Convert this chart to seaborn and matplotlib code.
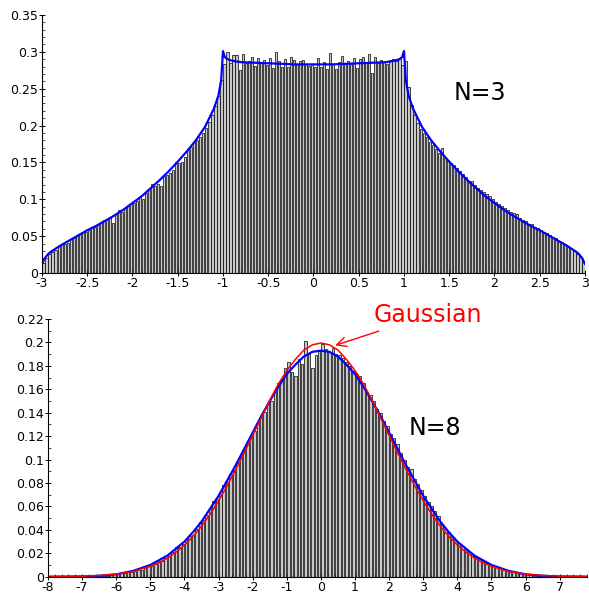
import numpy as np
import pandas as pd
import matplotlib
matplotlib.use("Agg")
import matplotlib.pyplot as plt
from matplotlib.ticker import MultipleLocator, FuncFormatter
import seaborn as sns

# ---- data: N=3 panel ----
top_bin_start = -3.0
top_bin_width = 1 / 30
top_bars = [
    0.013, 0.021, 0.026, 0.028, 0.031, 0.037, 0.039, 0.040, 0.041, 0.046,
    0.047, 0.051, 0.053, 0.056, 0.056, 0.058, 0.062, 0.062, 0.066, 0.068,
    0.072, 0.073, 0.074, 0.068, 0.080, 0.085, 0.083, 0.088, 0.091, 0.093,
    0.095, 0.098, 0.103, 0.101, 0.108, 0.112, 0.121, 0.118, 0.121, 0.118,
    0.131, 0.133, 0.135, 0.140, 0.150, 0.149, 0.151, 0.157, 0.167, 0.171,
    0.178, 0.180, 0.185, 0.190, 0.197, 0.205, 0.214, 0.226, 0.240, 0.262,
    0.283, 0.300, 0.285, 0.296, 0.296, 0.276, 0.297, 0.285, 0.287, 0.293,
    0.281, 0.292, 0.285, 0.289, 0.282, 0.291, 0.278, 0.300, 0.287, 0.279,
    0.290, 0.280, 0.293, 0.289, 0.283, 0.288, 0.289, 0.283, 0.281, 0.284,
    0.279, 0.292, 0.279, 0.286, 0.277, 0.298, 0.283, 0.277, 0.286, 0.295,
    0.283, 0.287, 0.284, 0.292, 0.278, 0.290, 0.293, 0.285, 0.297, 0.272,
    0.293, 0.285, 0.289, 0.286, 0.284, 0.289, 0.290, 0.287, 0.292, 0.282,
    0.287, 0.253, 0.228, 0.214, 0.203, 0.196, 0.190, 0.184, 0.178, 0.174,
    0.168, 0.163, 0.170, 0.156, 0.153, 0.149, 0.146, 0.142, 0.138, 0.134,
    0.130, 0.125, 0.125, 0.119, 0.116, 0.113, 0.110, 0.107, 0.104, 0.100,
    0.097, 0.094, 0.091, 0.088, 0.086, 0.083, 0.081, 0.080, 0.075, 0.072,
    0.070, 0.067, 0.067, 0.062, 0.061, 0.058, 0.056, 0.054, 0.051, 0.049,
    0.047, 0.044, 0.042, 0.039, 0.036, 0.033, 0.030, 0.026, 0.022, 0.016,
]
top_curve_x = [-3.0, -2.97, -2.93, -2.9, -2.8, -2.7, -2.6, -2.5, -2.4, -2.3,
               -2.2, -2.1, -2.0, -1.9, -1.8, -1.7, -1.6, -1.5, -1.4, -1.3,
               -1.2, -1.1, -1.05, -1.02, -1.0, -0.98, -0.95, -0.9, -0.8, -0.6,
               -0.4, -0.2, 0.0, 0.2, 0.4, 0.6, 0.8, 0.9, 0.95, 0.98,
               1.0, 1.02, 1.05, 1.1, 1.2, 1.3, 1.4, 1.5, 1.6, 1.7,
               1.8, 1.9, 2.0, 2.1, 2.2, 2.3, 2.4, 2.5, 2.6, 2.7,
               2.8, 2.9, 2.93, 2.97, 3.0]
top_curve_y = [0.012, 0.020, 0.026, 0.029, 0.037, 0.044, 0.051, 0.058, 0.064, 0.071,
               0.078, 0.086, 0.095, 0.104, 0.115, 0.126, 0.138, 0.151, 0.165, 0.180,
               0.198, 0.223, 0.241, 0.262, 0.301, 0.293, 0.290, 0.288, 0.286, 0.285,
               0.284, 0.283, 0.283, 0.283, 0.284, 0.285, 0.286, 0.288, 0.290, 0.293,
               0.301, 0.262, 0.241, 0.223, 0.198, 0.180, 0.165, 0.151, 0.138, 0.126,
               0.115, 0.104, 0.095, 0.086, 0.078, 0.071, 0.064, 0.058, 0.051, 0.044,
               0.037, 0.029, 0.026, 0.020, 0.012]

# ---- data: N=8 panel ----
bot_bin_start = -6.5
bot_bin_width = 0.1
bot_bars = [
    0.001, 0.001, 0.001, 0.002, 0.002, 0.002, 0.003, 0.003, 0.004, 0.004,
    0.005, 0.006, 0.006, 0.007, 0.009, 0.009, 0.011, 0.013, 0.013, 0.016,
    0.018, 0.021, 0.025, 0.025, 0.028, 0.032, 0.035, 0.036, 0.041, 0.047,
    0.048, 0.053, 0.059, 0.065, 0.066, 0.071, 0.078, 0.081, 0.088, 0.091,
    0.097, 0.105, 0.108, 0.114, 0.121, 0.124, 0.132, 0.137, 0.141, 0.148,
    0.150, 0.158, 0.165, 0.168, 0.178, 0.183, 0.175, 0.171, 0.186, 0.182,
    0.201, 0.190, 0.178, 0.189, 0.193, 0.199, 0.194, 0.192, 0.195, 0.190,
    0.189, 0.187, 0.183, 0.180, 0.176, 0.173, 0.171, 0.165, 0.158, 0.155,
    0.150, 0.143, 0.140, 0.133, 0.129, 0.122, 0.118, 0.113, 0.106, 0.100,
    0.094, 0.092, 0.083, 0.079, 0.074, 0.069, 0.064, 0.060, 0.056, 0.052,
    0.045, 0.041, 0.038, 0.034, 0.031, 0.029, 0.026, 0.023, 0.021, 0.018,
    0.017, 0.015, 0.014, 0.012, 0.011, 0.009, 0.008, 0.007, 0.006, 0.005,
    0.004, 0.004, 0.003, 0.003, 0.002, 0.002, 0.002, 0.001, 0.001, 0.001,
]
bot_curve_x = [-8, -7.5, -7, -6.5, -6, -5.5, -5, -4.75, -4.5, -4.25,
               -4, -3.75, -3.5, -3.25, -3, -2.75, -2.5, -2.25, -2, -1.75,
               -1.5, -1.25, -1, -0.75, -0.5, -0.25, 0, 0.25, 0.5, 0.75,
               1, 1.25, 1.5, 1.75, 2, 2.25, 2.5, 2.75, 3, 3.25,
               3.5, 3.75, 4, 4.25, 4.5, 4.75, 5, 5.5, 6, 6.5,
               7, 7.5, 7.8]
bot_blue_y = [0.0, 0.0001, 0.0002, 0.0008, 0.002, 0.005, 0.010, 0.014, 0.018, 0.024,
              0.030, 0.038, 0.047, 0.058, 0.069, 0.082, 0.095, 0.109, 0.123, 0.137,
              0.150, 0.162, 0.173, 0.181, 0.188, 0.192, 0.193, 0.192, 0.188, 0.181,
              0.173, 0.162, 0.150, 0.137, 0.123, 0.109, 0.095, 0.082, 0.069, 0.058,
              0.047, 0.038, 0.030, 0.024, 0.018, 0.014, 0.010, 0.005, 0.002, 0.0008,
              0.0002, 0.0001, 0.0]
bot_red_y = [0.0001, 0.0002, 0.0004, 0.0010, 0.0022, 0.0045, 0.0088, 0.0120, 0.0159, 0.0209,
             0.0270, 0.0344, 0.0431, 0.0533, 0.0648, 0.0775, 0.0913, 0.1057, 0.1207, 0.1356,
             0.1506, 0.1645, 0.1760, 0.1855, 0.1935, 0.1980, 0.1995, 0.1980, 0.1935, 0.1855,
             0.1760, 0.1645, 0.1506, 0.1356, 0.1207, 0.1057, 0.0913, 0.0775, 0.0648, 0.0533,
             0.0431, 0.0344, 0.0270, 0.0209, 0.0159, 0.0120, 0.0088, 0.0045, 0.0022, 0.0010,
             0.0004, 0.0002, 0.0001]

sns.set_style("ticks")
plt.rcParams.update({
    'font.family': ['DejaVu Sans'],
    'text.color': 'black',
    'axes.edgecolor': 'black',
    'xtick.color': 'black',
    'ytick.color': 'black',
    'xtick.labelcolor': 'black',
    'ytick.labelcolor': 'black',
})

fig = plt.figure(figsize=(5.89, 5.93), dpi=100)
ax1 = fig.add_axes([0.0713, 0.5396, 0.9219, 0.4351])
ax2 = fig.add_axes([0.0815, 0.0275, 0.9151, 0.4345])

fmt = FuncFormatter(lambda v, _: f"{round(v, 6):g}")


def draw_hist(ax, start, width, heights):
    n = len(heights)
    centers = start + width * (np.arange(n) + 0.5)
    df = pd.DataFrame({'x': centers, 'h': heights})
    sns.histplot(data=df, x='x', weights='h', binwidth=width,
                 binrange=(start, start + n * width), shrink=0.72,
                 color='#c8c8c8', edgecolor='black', linewidth=0.5,
                 alpha=1, ax=ax)


def style_axes(ax, xmaj, xmin, ymaj, ymin):
    sns.despine(ax=ax)
    ax.set_xlabel('')
    ax.set_ylabel('')
    ax.xaxis.set_major_locator(MultipleLocator(xmaj))
    ax.xaxis.set_minor_locator(MultipleLocator(xmin))
    ax.yaxis.set_major_locator(MultipleLocator(ymaj))
    ax.yaxis.set_minor_locator(MultipleLocator(ymin))
    ax.xaxis.set_major_formatter(fmt)
    ax.yaxis.set_major_formatter(fmt)
    ax.tick_params(which='major', direction='inout', length=4, width=0.7,
                   labelsize=9, pad=1, colors='black')
    ax.tick_params(which='minor', direction='in', length=2, width=0.5,
                   colors='black')
    for s in ('left', 'bottom'):
        ax.spines[s].set_linewidth(0.8)
        ax.spines[s].set_color('black')


# top panel
draw_hist(ax1, top_bin_start, top_bin_width, top_bars)
sns.lineplot(x=top_curve_x, y=top_curve_y, ax=ax1, color='#0000ff',
             lw=1.6, sort=False, estimator=None)
ax1.set_xlim(-3, 3)
ax1.set_ylim(0, 0.35)
style_axes(ax1, 0.5, 0.1, 0.05, 0.01)
ax1.text(1.84, 0.244, 'N=3', fontsize=17, ha='center', va='center',
         color='black')

# bottom panel
draw_hist(ax2, bot_bin_start, bot_bin_width, bot_bars)
sns.lineplot(x=bot_curve_x, y=bot_blue_y, ax=ax2, color='#0000ff',
             lw=1.6, sort=False, estimator=None)
sns.lineplot(x=bot_curve_x, y=bot_red_y, ax=ax2, color='#ff0000',
             lw=1.1, sort=False, estimator=None)
ax2.set_xlim(-8, 7.8)
ax2.set_ylim(0, 0.22)
style_axes(ax2, 1, 0.2, 0.02, 0.01)
ax2.text(3.34, 0.127, 'N=8', fontsize=17, ha='center', va='center',
         color='black')
ax2.annotate('Gaussian', xy=(0.42, 0.1975), xytext=(1.55, 0.2235),
             fontsize=17, color='#ff0000', ha='left', va='center',
             annotation_clip=False,
             arrowprops=dict(arrowstyle='->', color='#ff0000', lw=1.0,
                             shrinkA=2, shrinkB=0))

fig.savefig('out.png', dpi=100)
